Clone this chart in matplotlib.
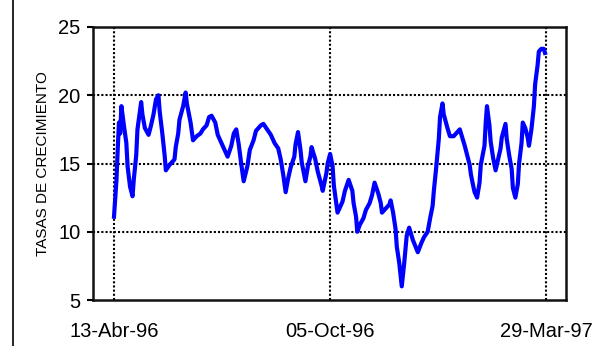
import numpy as np
import pandas as pd
import matplotlib
matplotlib.use('Agg')
import matplotlib.pyplot as plt
from matplotlib.lines import Line2D

plt.rcParams['font.family'] = ['Liberation Sans', 'DejaVu Sans']

# dias transcurridos desde el 13-Abr-96 y tasas de crecimiento
inicio = pd.Timestamp('1996-04-13')
dias = [0, 2, 3, 4, 5, 6, 8, 10, 11, 13, 15, 16, 18, 19, 22, 23, 25, 28, 30, 32,
        34, 36, 37, 39, 41, 42, 45, 49, 50, 52, 53, 56, 58, 59, 62, 64, 67, 70, 72, 75,
        77, 79, 82, 84, 88, 90, 92, 95, 97, 99, 101, 103, 105, 108, 110, 113, 115, 119, 121, 124,
        127, 130, 133, 135, 137, 139, 141, 143, 146, 147, 149, 151, 152, 155, 157, 159, 160, 163, 165, 168,
        169, 172, 173, 175, 177, 178, 181, 185, 187, 190, 193, 194, 196, 197, 199, 202, 204, 207, 209, 211,
        214, 216, 217, 220, 223, 224, 226, 228, 229, 231, 233, 235, 236, 237, 239, 242, 246, 249, 251, 254,
        256, 258, 259, 261, 263, 264, 266, 267, 270, 272, 275, 277, 280, 284, 286, 288, 289, 291, 292, 294,
        296, 297, 300, 301, 302, 304, 305, 307, 309, 311, 313, 314, 317, 318, 320, 322, 323, 325, 327, 328,
        330, 331, 333, 335, 336, 338, 340, 341, 343, 344, 346, 348, 349]
tasas = [11.1, 13.8, 16.0, 18.0, 17.2, 19.2, 17.8, 16.5, 14.8, 13.3, 12.6, 13.8, 15.6, 17.5, 19.5, 18.6, 17.6, 17.1, 17.8, 18.6,
         19.7, 20.0, 18.8, 17.3, 15.6, 14.5, 14.9, 15.3, 16.2, 17.2, 18.2, 19.2, 20.2, 19.4, 18.0, 16.7, 17.0, 17.2, 17.5, 17.8,
         18.4, 18.5, 18.0, 17.1, 16.3, 15.9, 15.5, 16.3, 17.2, 17.5, 16.4, 15.0, 13.7, 14.8, 16.0, 16.7, 17.4, 17.8, 17.9, 17.5,
         17.1, 16.5, 16.1, 15.3, 14.2, 12.9, 13.9, 14.7, 15.5, 16.4, 17.3, 16.0, 15.1, 13.7, 14.8, 15.5, 16.2, 15.3, 14.4, 13.4,
         13.0, 14.3, 15.0, 15.7, 14.8, 13.4, 11.4, 12.2, 13.0, 13.8, 13.0, 12.1, 11.1, 10.0, 10.5, 11.0, 11.6, 12.1, 12.7, 13.6,
         12.8, 12.1, 11.4, 11.7, 12.0, 12.3, 11.4, 10.2, 8.9, 7.7, 6.0, 7.7, 8.7, 9.7, 10.3, 9.4, 8.5, 9.2, 9.6, 10.0,
         11.0, 11.9, 13.0, 14.8, 16.8, 18.4, 19.4, 18.6, 17.6, 17.0, 17.0, 17.2, 17.5, 16.3, 15.6, 14.9, 14.2, 13.3, 12.9, 12.5,
         13.6, 14.9, 16.3, 18.0, 19.2, 17.8, 16.6, 15.4, 14.5, 15.3, 16.1, 16.9, 17.9, 16.8, 15.6, 14.6, 13.2, 12.5, 13.5, 15.0,
         16.5, 18.0, 17.6, 16.9, 16.3, 17.5, 19.2, 20.8, 22.2, 23.2, 23.4, 23.4, 23.1]

fechas_eje = ['1996-04-13', '1996-10-05', '1997-03-29']
etiquetas_eje = ['13-Abr-96', '05-Oct-96', '29-Mar-97']
valores_y = [5, 10, 15, 20, 25]

fechas = inicio + pd.to_timedelta(dias, unit='D')
fechas_ticks = pd.to_datetime(fechas_eje)

fig = plt.figure(figsize=(5.92, 3.46), dpi=100)
ax = fig.add_axes([93 / 592, 1 - 300 / 346, (566 - 93) / 592, (300 - 27) / 346])

# lineas de division punteadas
for y in [10, 15, 20]:
    ax.axhline(y, color='black', lw=1.5, ls=(0, (1, 1)), zorder=1)
for f in fechas_ticks:
    ax.axvline(f, color='black', lw=1.5, ls=(0, (1, 1)), zorder=1)

ax.plot(fechas, tasas, color='#0000FF', lw=3, zorder=3)

ax.set_xlim(inicio - pd.Timedelta(days=17), inicio + pd.Timedelta(days=366))
ax.set_ylim(5, 25)
ax.set_xticks(fechas_ticks)
ax.set_xticklabels(etiquetas_eje)
ax.set_yticks(valores_y)
ax.tick_params(axis='x', length=0, pad=16, labelsize=14.5)
ax.tick_params(axis='y', length=4, width=1.5, pad=5, labelsize=14.5)
ax.set_ylabel('TASAS DE CRECIMIENTO', fontsize=11, labelpad=6)

for s in ax.spines.values():
    s.set_linewidth(1.8)
    s.set_color('#111111')

# borde izquierdo del area del grafico
fig.add_artist(Line2D([12.5 / 592, 12.5 / 592], [0, 1], color='black', lw=1.2, transform=fig.transFigure))

fig.savefig('out.png', dpi=100)
